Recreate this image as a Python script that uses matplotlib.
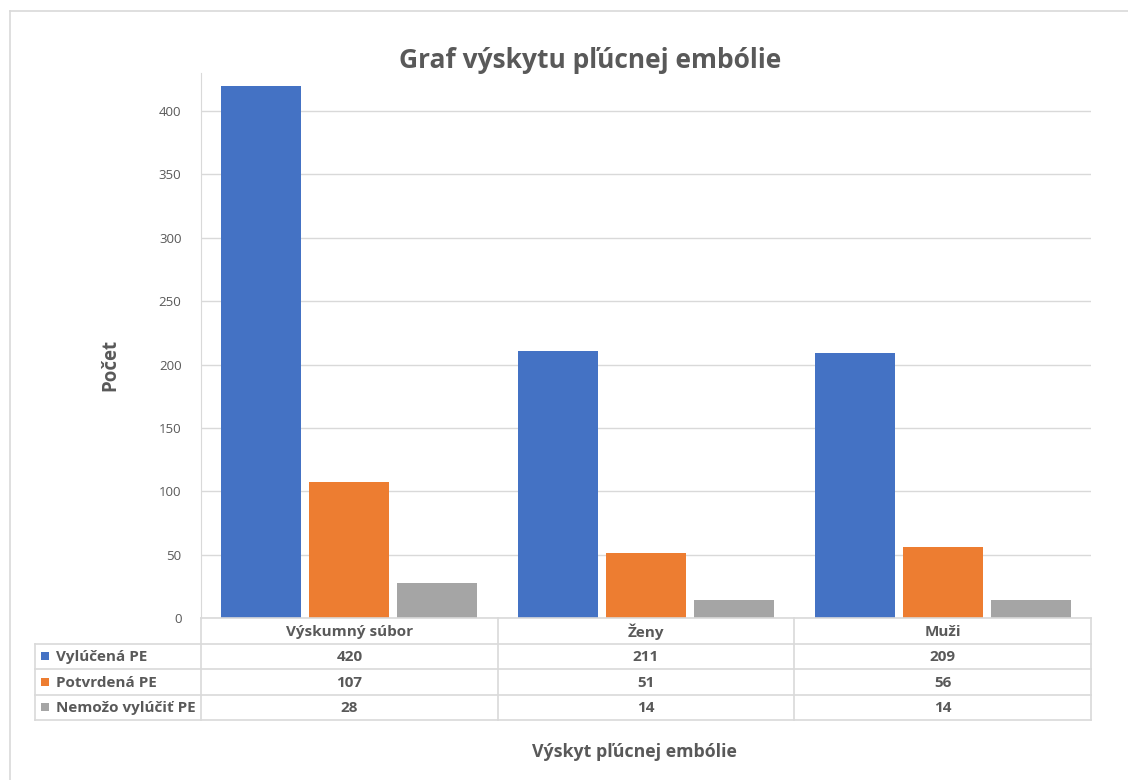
import matplotlib
matplotlib.use('Agg')
import matplotlib.pyplot as plt
import numpy as np
from matplotlib.patches import Rectangle
from matplotlib.lines import Line2D

# data
categories = ['Výskumný súbor', 'Ženy', 'Muži']
series_names = ['Vylúčená PE', 'Potvrdená PE', 'Nemožo vylúčiť PE']
vylucena = [420, 211, 209]
potvrdena = [107, 51, 56]
nemozno = [28, 14, 14]

colors = ['#4472C4', '#ED7D31', '#A5A5A5']
txt = '#595959'
grid = '#D9D9D9'

plt.rcParams['font.family'] = ['Open Sans', 'DejaVu Sans']

W, H = 1128, 780
fig = plt.figure(figsize=(W / 100, H / 100), dpi=100)

# plot area in pixels
x0, x1, ytop, ybot = 201, 1091, 73, 618
ax = fig.add_axes([x0 / W, 1 - ybot / H, (x1 - x0) / W, (ybot - ytop) / H])

# chart frame
fig.add_artist(Line2D([10 / W, 1], [1 - 11 / H] * 2, transform=fig.transFigure,
                      color=grid, lw=1.2))
fig.add_artist(Line2D([10 / W] * 2, [0, 1 - 11 / H], transform=fig.transFigure,
                      color=grid, lw=1.2))

values = [vylucena, potvrdena, nemozno]
x = np.arange(len(categories))
bw = 0.27
step = 0.297
for i, (vals, c) in enumerate(zip(values, colors)):
    ax.bar(x + (i - 1) * step, vals, width=bw, color=c, zorder=3)

ax.set_xlim(-0.5, len(categories) - 0.5)
ax.set_ylim(0, 430)
ax.set_yticks(np.arange(0, 401, 50))
ax.yaxis.grid(True, color=grid, lw=1, zorder=0)
for s in ['top', 'right', 'bottom']:
    ax.spines[s].set_visible(False)
ax.spines['left'].set_color(grid)
ax.tick_params(axis='y', length=0, labelcolor=txt, labelsize=9.5, pad=14)
ax.set_xticks([])

fig.text(590 / W, 1 - 60 / H, 'Graf výskytu pľúcnej embólie', ha='center',
         va='center', fontsize=19, fontweight='bold', color=txt)
fig.text(110 / W, 1 - 365 / H, 'Počet', ha='center', va='center', rotation=90,
         fontsize=13.5, fontweight='bold', color=txt)
fig.text(634 / W, 1 - 752 / H, 'Výskyt pľúcnej embólie', ha='center',
         va='center', fontsize=12.8, fontweight='bold', color=txt)

# data table below the axis
tf = fig.transFigure
def px(xp, yp):
    return xp / W, 1 - yp / H

def hline(xa, xb, yp):
    fig.add_artist(Line2D([xa / W, xb / W], [1 - yp / H] * 2, transform=tf,
                          color=grid, lw=1.2))

def vline(xp, ya, yb):
    fig.add_artist(Line2D([xp / W] * 2, [1 - ya / H, 1 - yb / H], transform=tf,
                          color=grid, lw=1.2))

rows = [618, 643.5, 669, 694.5, 720]
cols = [201, 497.7, 794.3, 1091]
left = 35
hline(x0, x1, rows[0])
for r in rows[1:]:
    hline(left, x1, r)
for cx in cols:
    vline(cx, rows[0], rows[-1])
vline(left, rows[1], rows[-1])

for j, cat in enumerate(categories):
    cx = (cols[j] + cols[j + 1]) / 2
    fig.text(*px(cx, (rows[0] + rows[1]) / 2 + 1), cat, ha='center', va='center',
             fontsize=11, fontweight='bold', color=txt)
    for i, vals in enumerate(values):
        fig.text(*px(cx, (rows[i + 1] + rows[i + 2]) / 2 + 1), str(vals[j]),
                 ha='center', va='center', fontsize=11, fontweight='bold',
                 color=txt)

for i, (name, c) in enumerate(zip(series_names, colors)):
    ym = (rows[i + 1] + rows[i + 2]) / 2
    fig.add_artist(Rectangle(px(41, ym + 4), 8 / W, 8 / H, transform=tf,
                             color=c, lw=0))
    fig.text(*px(56, ym + 1), name, ha='left', va='center', fontsize=11,
             fontweight='bold', color=txt)

fig.savefig('out.png', dpi=100, facecolor='white')
